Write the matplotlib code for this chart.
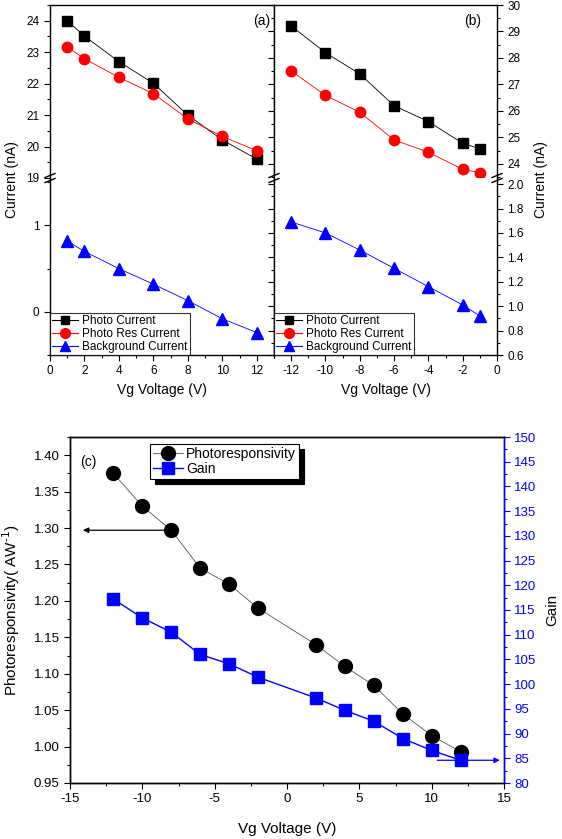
import numpy as np
import matplotlib
matplotlib.use("Agg")
import matplotlib.pyplot as plt
from matplotlib.ticker import MultipleLocator
from matplotlib.lines import Line2D

plt.rcParams['font.family'] = ['Liberation Sans', 'DejaVu Sans']
plt.rcParams['axes.unicode_minus'] = False

# panel (a): positive gate voltage
va = [1, 2, 4, 6, 8, 10, 12]
photo_a = [24.0, 23.51, 22.70, 22.01, 21.0, 20.21, 19.6]
res_a = [23.17, 22.79, 22.20, 21.68, 20.88, 20.32, 19.87]
bg_a = [0.82, 0.70, 0.50, 0.32, 0.13, -0.08, -0.24]

# panel (b): negative gate voltage
vb = [-12, -10, -8, -6, -4, -2, -1]
photo_b = [29.21, 28.20, 27.40, 26.20, 25.60, 24.78, 24.57]
res_b = [27.51, 26.59, 25.95, 24.91, 24.44, 23.80, 23.67]
bg_b = [1.69, 1.60, 1.46, 1.31, 1.16, 1.01, 0.92]

# panel (c)
vc = [-12, -10, -8, -6, -4, -2, 2, 4, 6, 8, 10, 12]
resp = [1.375, 1.330, 1.297, 1.245, 1.223, 1.190, 1.140, 1.110, 1.084, 1.045, 1.015, 0.993]
gain = [117.2, 113.4, 110.5, 106.0, 104.1, 101.4, 97.2, 94.7, 92.5, 89.0, 86.6, 84.6]

W, H = 562, 839
fig = plt.figure(figsize=(W / 100, H / 100), dpi=100)


def px_axes(x0, x1, y0, y1):
    return fig.add_axes([x0 / W, 1 - y1 / H, (x1 - x0) / W, (y1 - y0) / H])


BLUE = '#0000ff'
tick_fs = 8.5


def style(ax):
    ax.tick_params(labelsize=tick_fs, direction='out', length=4, width=0.8)
    ax.tick_params(which='minor', direction='out', length=2, width=0.8)
    for s in ax.spines.values():
        s.set_linewidth(1.0)


def draw_series(ax, x, y, kind):
    if kind == 'photo':
        ax.plot(x, y, color='black', lw=0.6, marker='s', ms=6.5, mfc='black', mec='black')
    elif kind == 'res':
        ax.plot(x, y, color='red', lw=0.6, marker='o', ms=7.5, mfc='red', mec='red')
    else:
        ax.plot(x, y, color=BLUE, lw=0.6, marker='^', ms=8, mfc=BLUE, mec=BLUE)


# ---- panel (a)
a_top = px_axes(50, 274, 5, 178)
a_bot = px_axes(50, 274, 178, 355)
for ax in (a_top, a_bot):
    ax.set_xlim(0, 13)
    ax.xaxis.set_major_locator(MultipleLocator(2))
    ax.xaxis.set_minor_locator(MultipleLocator(1))
    style(ax)
draw_series(a_top, va, photo_a, 'photo')
draw_series(a_top, va, res_a, 'res')
draw_series(a_bot, va, bg_a, 'bg')
a_top.set_ylim(19, 24.5)
a_top.yaxis.set_major_locator(MultipleLocator(1))
a_top.yaxis.set_minor_locator(MultipleLocator(0.5))
a_bot.set_ylim(-0.5, 1.55)
a_bot.yaxis.set_major_locator(MultipleLocator(1))
a_bot.yaxis.set_minor_locator(MultipleLocator(0.5))
a_top.spines['bottom'].set_visible(False)
a_bot.spines['top'].set_visible(False)
a_top.tick_params(axis='x', which='both', bottom=False, labelbottom=False)
a_top.tick_params(axis='y', which='both', right=False)
a_bot.tick_params(axis='y', which='both', right=False)
a_bot.set_xlabel('Vg Voltage (V)', fontsize=10, labelpad=4)
a_top.text(0.985, 0.95, '(a)', transform=a_top.transAxes, ha='right', va='top', fontsize=10)
fig.text(12 / W, 1 - 180 / H, 'Current (nA)', rotation=90, ha='center', va='center', fontsize=10)

# ---- panel (b)
b_top = px_axes(274, 497, 5, 178)
b_bot = px_axes(274, 497, 178, 355)
for ax in (b_top, b_bot):
    ax.set_xlim(-13, 0)
    ax.xaxis.set_major_locator(MultipleLocator(2))
    ax.xaxis.set_minor_locator(MultipleLocator(1))
    style(ax)
    ax.yaxis.tick_right()
    ax.tick_params(axis='y', which='both', left=True, right=True, labelleft=False, labelright=True)
draw_series(b_top, vb, photo_b, 'photo')
draw_series(b_top, vb, res_b, 'res')
draw_series(b_bot, vb, bg_b, 'bg')
b_top.set_ylim(23.47, 30)
b_top.yaxis.set_major_locator(MultipleLocator(1))
b_top.yaxis.set_minor_locator(MultipleLocator(0.5))
b_bot.set_ylim(0.6, 2.05)
b_bot.yaxis.set_major_locator(MultipleLocator(0.2))
b_bot.yaxis.set_minor_locator(MultipleLocator(0.1))
b_bot.yaxis.set_major_formatter(plt.FormatStrFormatter('%.1f'))
b_top.spines['bottom'].set_visible(False)
b_bot.spines['top'].set_visible(False)
b_top.tick_params(axis='x', which='both', bottom=False, labelbottom=False)
b_bot.set_xlabel('Vg Voltage (V)', fontsize=10, labelpad=4)
b_top.text(0.93, 0.95, '(b)', transform=b_top.transAxes, ha='right', va='top', fontsize=10)
fig.text(541 / W, 1 - 180 / H, 'Current (nA)', rotation=90, ha='center', va='center', fontsize=10)

# legends for (a) and (b)
leg_handles = [
    Line2D([], [], color='black', lw=0.8, marker='s', ms=6, mfc='black', mec='black'),
    Line2D([], [], color='red', lw=0.8, marker='o', ms=7, mfc='red', mec='red'),
    Line2D([], [], color=BLUE, lw=0.8, marker='^', ms=7.5, mfc=BLUE, mec=BLUE),
]
leg_labels = ['Photo Current', 'Photo Res Current', 'Background Current']
for ax in (a_bot, b_bot):
    lg = ax.legend(leg_handles, leg_labels, loc='lower left', bbox_to_anchor=(0.0, 0.0),
                   fontsize=8.5, frameon=True, fancybox=False, edgecolor='black',
                   handlelength=2.2, handletextpad=0.3, labelspacing=0.05,
                   borderpad=0.2, borderaxespad=0.0)
    lg.get_frame().set_linewidth(0.8)


# break marks
def brk(xp, yp):
    for dy in (-2.5, 2.5):
        fig.add_artist(Line2D([(xp - 5) / W, (xp + 5) / W],
                              [1 - (yp + dy + 2) / H, 1 - (yp + dy - 2) / H],
                              color='black', lw=1.0))


brk(50, 178)
brk(274, 178)
brk(497, 178)

# ---- panel (c)
c = px_axes(70, 504, 437, 783)
c2 = c.twinx()
style(c)
style(c2)
c.set_xlim(-15, 15)
c.set_ylim(0.95, 1.425)
c.xaxis.set_major_locator(MultipleLocator(5))
c.xaxis.set_minor_locator(MultipleLocator(2.5))
c.yaxis.set_major_locator(MultipleLocator(0.05))
c.yaxis.set_minor_locator(MultipleLocator(0.025))
c.yaxis.set_major_formatter(plt.FormatStrFormatter('%.2f'))
c2.set_ylim(80, 150)
c2.yaxis.set_major_locator(MultipleLocator(5))
c2.yaxis.set_minor_locator(MultipleLocator(2.5))
c.tick_params(labelsize=9.5)
c2.tick_params(labelsize=9.5, colors=BLUE, which='both')
c2.spines['right'].set_color(BLUE)

h1, = c.plot(vc, resp, color='#555555', lw=0.6, marker='o', ms=10, mfc='black', mec='black',
             label='Photoresponsivity')
h2, = c2.plot(vc, gain, color=BLUE, lw=1.0, marker='s', ms=9, mfc=BLUE, mec=BLUE,
              label='Gain')
c.annotate('', xy=(-14.3, 1.297), xytext=(-8.2, 1.297),
           arrowprops=dict(arrowstyle='-|>', color='black', lw=0.9, mutation_scale=8))
c2.annotate('', xy=(14.9, 84.6), xytext=(10.2, 84.6),
            arrowprops=dict(arrowstyle='-|>', color=BLUE, lw=0.9, mutation_scale=8))
c.text(-14.3, 1.39, '(c)', fontsize=10, ha='left', va='center')

c.set_xlabel('Vg Voltage (V)', fontsize=11, labelpad=12)
c.set_ylabel('Photoresponsivity( AW$^{\u20101}$)', fontsize=11, labelpad=8)
c2.set_ylabel('Gain', fontsize=11, labelpad=6)

lg = c2.legend([h1, h2], ['Photoresponsivity', 'Gain'], loc='upper left',
               bbox_to_anchor=(0.184, 0.98), fontsize=10, fancybox=False,
               edgecolor='black', framealpha=1, handlelength=2.2, handletextpad=0.2,
               labelspacing=0.1, borderpad=0.2, borderaxespad=0.0,
               shadow={'color': 'black', 'alpha': 1.0, 'ox': 4, 'oy': -4})
lg.get_frame().set_linewidth(0.8)

fig.savefig('out.png', dpi=100)
